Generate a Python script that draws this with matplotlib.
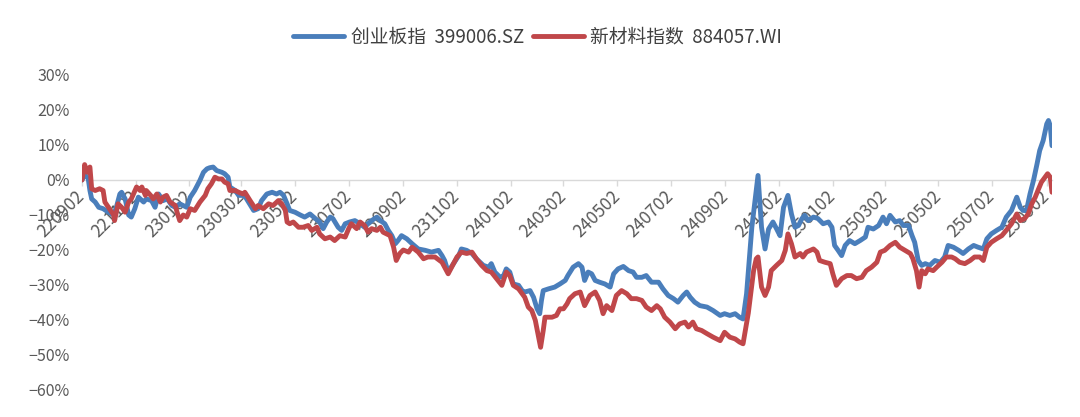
import matplotlib
matplotlib.use("Agg")
import matplotlib.pyplot as plt
import matplotlib.dates as mdates
import pandas as pd

plt.rcParams['font.family'] = ['Noto Sans CJK SC', 'DejaVu Sans']
plt.rcParams['axes.unicode_minus'] = True

# ---- data (day offsets from 2022-09-02, cumulative return in %) ----
start_date = "2022-09-02"
series_names = ["创业板指  399006.SZ", "新材料指数  884057.WI"]

cyb_days = [0, 3, 7, 9, 11, 15, 19, 24, 30, 36, 39, 43, 45, 49, 53, 56, 60, 64, 70, 73,
            79, 83, 87, 92, 97, 102, 106, 111, 115, 119, 123, 128, 134, 138, 142, 145, 149, 153, 159, 162,
            166, 168, 174, 178, 183, 186, 195, 200, 204, 210, 216, 221, 225, 229, 233, 236, 242, 248, 253, 259,
            265, 270, 274, 278, 282, 285, 291, 295, 299, 304, 310, 316, 321, 325, 329, 335, 339, 344, 348, 352,
            356, 359, 363, 369, 375, 382, 390, 397, 405, 409, 412, 416, 422, 428, 431, 437, 443, 448, 456, 462,
            465, 469, 475, 479, 482, 486, 490, 496, 500, 503, 509, 513, 517, 520, 522, 524, 530, 537, 543, 549,
            552, 558, 564, 568, 571, 575, 579, 583, 588, 594, 600, 604, 609, 615, 621, 626, 630, 636, 641, 647,
            655, 660, 666, 672, 677, 683, 687, 691, 696, 702, 710, 717, 725, 730, 736, 742, 747, 751, 755, 761,
            765, 768, 772, 776, 780, 785, 789, 793, 797, 802, 806, 810, 814, 818, 821, 825, 831, 836, 842, 848,
            852, 855, 859, 863, 867, 872, 878, 884, 890, 893, 899, 905, 910, 914, 918, 924, 929, 933, 939, 943,
            946, 950, 954, 958, 963, 969, 975, 980, 984, 990, 996, 1001, 1007, 1013, 1018, 1024, 1028, 1033, 1039, 1045,
            1050, 1056, 1062, 1066, 1069, 1073, 1077, 1081, 1085, 1088, 1092, 1096, 1098, 1100, 1102]
cyb_vals = [0.0, 1.5, 0.5, -3.0, -5.4, -6.3, -7.8, -8.2, -9.2, -10.0, -7.8, -4.0, -3.5, -5.4, -10.0, -10.6, -8.2, -4.9, -6.3, -5.4,
            -5.9, -7.8, -4.0, -5.9, -5.4, -7.3, -7.8, -6.8, -7.3, -7.8, -4.9, -3.0, -0.1, 2.2, 3.2, 3.5, 3.7, 2.7, 2.2, 1.8,
            0.8, -2.0, -3.0, -4.4, -4.4, -5.0, -8.7, -8.2, -5.9, -4.0, -3.5, -4.0, -3.5, -4.4, -6.8, -8.7, -9.2, -10.0, -10.6, -9.7,
            -11.0, -12.0, -13.9, -12.0, -10.6, -11.0, -13.5, -14.4, -12.5, -12.0, -11.6, -12.5, -13.5, -12.5, -11.6, -10.6, -11.6, -12.5, -14.4, -15.9,
            -18.2, -17.3, -15.9, -16.8, -18.2, -19.7, -20.1, -20.6, -20.1, -21.6, -23.0, -26.3, -23.9, -21.6, -19.7, -20.1, -21.0, -22.5, -24.4, -24.9,
            -23.9, -26.3, -27.8, -27.3, -25.4, -26.3, -29.7, -30.1, -31.6, -32.0, -31.6, -33.5, -36.8, -38.2, -34.4, -31.6, -31.1, -30.6, -29.7, -28.7,
            -27.3, -24.9, -23.9, -24.9, -28.7, -26.3, -26.8, -28.7, -29.2, -29.7, -30.6, -26.8, -25.4, -24.7, -25.9, -26.3, -27.8, -27.8, -27.3, -29.2,
            -29.2, -31.1, -33.0, -33.9, -34.9, -33.0, -32.0, -33.5, -34.9, -35.9, -36.3, -37.3, -38.7, -38.2, -38.7, -38.2, -39.2, -39.7, -32.5, -13.5,
            -5.0, 1.3, -13.5, -19.7, -14.0, -12.0, -13.9, -15.9, -7.8, -4.4, -9.7, -13.5, -13.0, -11.0, -10.1, -11.6, -10.6, -11.0, -12.5, -12.0,
            -13.5, -18.7, -20.1, -21.6, -18.7, -17.3, -18.2, -17.3, -16.3, -13.5, -14.0, -13.0, -10.6, -12.5, -10.1, -12.0, -11.6, -13.0, -13.0, -15.9,
            -17.8, -23.0, -24.4, -23.9, -24.4, -23.0, -23.5, -22.0, -18.7, -19.2, -20.1, -21.0, -19.7, -18.7, -19.2, -19.7, -16.8, -15.4, -14.4, -13.5,
            -10.6, -8.7, -4.9, -7.8, -8.7, -8.7, -4.0, -0.1, 4.6, 8.4, 11.3, 16.0, 17.0, 15.5, 9.8]

xcl_days = [0, 3, 6, 9, 11, 15, 20, 24, 26, 30, 36, 37, 41, 45, 49, 53, 56, 62, 66, 68,
            72, 73, 78, 81, 85, 89, 92, 96, 100, 106, 108, 111, 115, 119, 123, 128, 134, 140, 143, 147,
            151, 155, 159, 162, 166, 168, 174, 178, 183, 185, 191, 197, 200, 206, 212, 217, 223, 227, 231, 233,
            236, 240, 246, 251, 257, 261, 267, 270, 276, 282, 287, 293, 299, 303, 306, 312, 316, 321, 325, 329,
            335, 339, 342, 346, 350, 354, 357, 361, 365, 371, 375, 382, 388, 393, 401, 409, 416, 420, 426, 431,
            437, 443, 448, 454, 460, 465, 471, 477, 482, 486, 490, 496, 500, 503, 507, 511, 515, 518, 521, 524,
            526, 534, 539, 543, 547, 551, 554, 560, 566, 571, 577, 583, 588, 592, 596, 602, 607, 613, 619, 624,
            630, 636, 641, 647, 653, 657, 662, 668, 674, 679, 685, 689, 694, 698, 704, 710, 717, 725, 730, 736,
            742, 747, 751, 757, 763, 766, 768, 772, 776, 780, 783, 789, 795, 799, 802, 806, 810, 816, 819, 823,
            831, 835, 838, 844, 850, 853, 857, 863, 869, 874, 880, 886, 891, 897, 903, 907, 912, 918, 924, 929,
            935, 941, 944, 948, 951, 954, 958, 961, 967, 971, 977, 982, 988, 992, 997, 1003, 1009, 1014, 1020, 1024,
            1028, 1033, 1039, 1045, 1050, 1056, 1062, 1066, 1071, 1075, 1079, 1083, 1086, 1090, 1094, 1097, 1100, 1102]
xcl_vals = [0.0, 4.4, 2.2, 3.7, -2.5, -3.0, -2.5, -3.0, -6.3, -7.8, -10.0, -11.6, -6.8, -7.8, -9.2, -6.3, -5.4, -2.0, -3.0, -2.0,
            -4.4, -3.0, -4.4, -5.4, -4.0, -6.3, -4.9, -4.4, -6.3, -7.3, -9.2, -11.6, -10.0, -10.6, -8.2, -8.7, -6.3, -4.4, -2.5, -1.1,
            0.8, 0.3, 0.3, -0.6, -1.1, -3.0, -3.0, -3.5, -4.0, -3.5, -5.9, -8.2, -7.3, -8.2, -6.8, -7.3, -5.9, -6.8, -8.7, -12.0,
            -12.5, -12.0, -13.5, -13.5, -13.0, -14.4, -13.5, -15.4, -16.8, -16.3, -17.3, -15.9, -16.3, -13.9, -12.5, -13.9, -12.0, -13.0, -14.9, -13.9,
            -14.4, -13.5, -14.9, -15.4, -15.9, -19.2, -23.0, -21.0, -20.0, -20.6, -19.2, -20.6, -22.5, -22.0, -22.0, -23.5, -26.8, -24.9, -22.0, -20.6,
            -21.0, -20.6, -22.5, -24.4, -25.9, -26.3, -28.2, -30.1, -26.3, -27.3, -30.1, -31.1, -32.5, -33.5, -36.3, -37.3, -40.1, -43.9, -47.8, -43.0,
            -39.2, -39.2, -38.7, -36.8, -36.8, -35.4, -33.9, -32.5, -32.0, -35.9, -33.0, -32.0, -34.4, -38.2, -35.9, -37.3, -33.0, -31.6, -32.5, -33.9,
            -33.9, -34.4, -36.3, -37.3, -35.9, -36.8, -39.2, -40.6, -42.5, -41.1, -40.6, -42.0, -40.6, -42.5, -43.0, -43.9, -44.9, -45.9, -43.5, -44.9,
            -45.4, -46.3, -46.8, -38.0, -25.9, -22.5, -22.0, -30.6, -33.0, -30.6, -25.9, -24.4, -23.0, -20.1, -15.4, -18.2, -22.0, -21.0, -22.0, -20.6,
            -19.7, -20.6, -23.0, -23.5, -23.9, -26.8, -30.1, -28.2, -27.3, -27.3, -28.2, -27.8, -25.9, -24.9, -23.5, -20.6, -20.1, -18.7, -17.8, -19.2,
            -20.1, -21.0, -22.5, -25.9, -30.6, -25.9, -26.8, -25.4, -25.9, -24.9, -23.5, -22.0, -22.0, -22.5, -23.5, -23.9, -23.0, -22.0, -22.0, -23.0,
            -19.2, -17.8, -16.8, -15.9, -14.4, -12.5, -9.7, -11.6, -11.0, -9.7, -6.8, -4.9, -3.0, -0.6, 0.8, 1.8, 0.8, -3.5]

y_ticks = [-60, -50, -40, -30, -20, -10, 0, 10, 20, 30]
n_x_ticks = 19
x_label_fmt = "%y%m%d"

# ---- figure ----
W, H = 1080, 417
fig = plt.figure(figsize=(W / 100, H / 100), dpi=100)
ax = fig.add_axes([82 / W, 1 - 390 / H, (1052 - 82) / W, (390 - 75) / H])

t0 = pd.Timestamp(start_date)
cyb_x = t0 + pd.to_timedelta(cyb_days, unit="D")
xcl_x = t0 + pd.to_timedelta(xcl_days, unit="D")

blue = "#4A7EBB"
red = "#C0474A"
ax.plot(cyb_x, cyb_vals, color=blue, lw=3.5, solid_joinstyle="round", solid_capstyle="round",
        label=series_names[0], zorder=3)
ax.plot(xcl_x, xcl_vals, color=red, lw=3.5, solid_joinstyle="round", solid_capstyle="round",
        label=series_names[1], zorder=4)

ax.set_ylim(y_ticks[0], y_ticks[-1])
ax.set_yticks(y_ticks)
ax.set_yticklabels([f"{v}%".replace("-", "\u2212") for v in y_ticks])
ax.set_xlim(t0, max(cyb_x[-1], xcl_x[-1]))

xt = pd.date_range(start_date, periods=n_x_ticks, freq=pd.DateOffset(months=2))
ax.set_xticks(xt)
ax.xaxis.set_major_formatter(mdates.DateFormatter(x_label_fmt))

for s in ["left", "right", "top"]:
    ax.spines[s].set_visible(False)
ax.spines["bottom"].set_position(("data", 0))
ax.spines["bottom"].set_color("#D9D9D9")
ax.spines["bottom"].set_linewidth(1.0)
ax.spines["bottom"].set_zorder(1)

ax.tick_params(axis="y", length=0, pad=9, labelsize=11.5, labelcolor="#595959")
ax.tick_params(axis="x", direction="out", length=4, width=1, color="#D9D9D9",
               pad=6, labelsize=12.5, labelcolor="#595959")
for lab in ax.get_xticklabels():
    lab.set_rotation(45)
    lab.set_ha("right")
    lab.set_va("center")
    lab.set_rotation_mode("anchor")

fig.legend(loc="center", bbox_to_anchor=(0.498, 0.911), ncol=2, frameon=False,
           fontsize=13.5, handlelength=2.7, handletextpad=0.35, columnspacing=0.5,
           labelcolor="#404040")

fig.savefig("out.png", dpi=100, facecolor="white")
